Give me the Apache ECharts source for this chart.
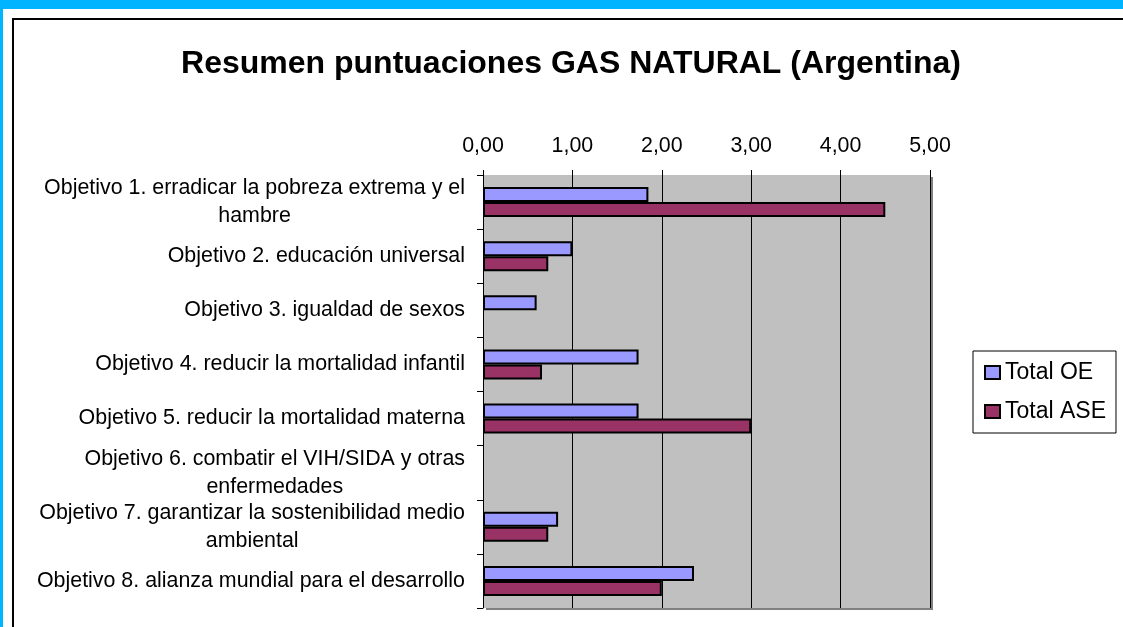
<!DOCTYPE html>
<html>
<head>
<meta charset="utf-8">
<script src="https://cdn.jsdelivr.net/npm/echarts@6/dist/echarts.min.js"></script>
<style>
  html, body { margin: 0; padding: 0; background: #fff; }
  #main { width: 1123px; height: 627px; }
</style>
</head>
<body>
<div id="main"></div>
<script>
// categorías (eje vertical)
var categories = [
  'Objetivo 1. erradicar la pobreza extrema y el\nhambre',
  'Objetivo 2. educación universal',
  'Objetivo 3. igualdad de sexos',
  'Objetivo 4. reducir la mortalidad infantil',
  'Objetivo 5. reducir la mortalidad materna',
  'Objetivo 6. combatir el VIH/SIDA y otras\nenfermedades',
  'Objetivo 7. garantizar la sostenibilidad medio\nambiental',
  'Objetivo 8. alianza mundial para el desarrollo'
];
// series
var totalOE = [1.85, 1.0, 0.6, 1.74, 1.74, 0, 0.84, 2.36];
var totalASE = [4.5, 0.73, 0, 0.66, 3.0, 0, 0.73, 2.0];
// eje de valores
var xMin = 0, xMax = 5, xStep = 1;

var FONT = '"Liberation Sans", Arial, sans-serif';
var LABEL_SIZE = 21.4;

// Excel no dibuja nada para los valores 0
function noZero(arr) {
  return arr.map(function (v) { return v === 0 ? null : v; });
}

// medir la primera línea para centrar la segunda debajo
var ctx = document.createElement('canvas').getContext('2d');
ctx.font = LABEL_SIZE + 'px "Liberation Sans"';
var rich = {};
categories.forEach(function (c, i) {
  var lines = c.split('\n');
  rich['l' + i] = {
    width: ctx.measureText(lines[0]).width,
    align: 'center',
    fontSize: LABEL_SIZE,
    fontFamily: FONT,
    color: '#000',
    lineHeight: 28
  };
});

var chart = echarts.init(document.getElementById('main'));

var option = {
  backgroundColor: '#fff',
  animation: false,
  title: {
    text: 'Resumen puntuaciones GAS NATURAL (Argentina)',
    left: 566,
    textAlign: 'center',
    top: 43,
    textStyle: { fontFamily: FONT, fontSize: 32, fontWeight: 'bold', color: '#000' }
  },
  legend: {
    orient: 'vertical',
    left: 973,
    top: 351,
    data: ['Total OE', 'Total ASE'],
    icon: 'rect',
    itemWidth: 15,
    itemHeight: 13,
    itemGap: 16,
    padding: [10, 10, 10, 11],
    borderColor: '#000',
    borderWidth: 1,
    textStyle: { fontFamily: FONT, fontSize: 23, color: '#000' }
  },
  grid: {
    left: 483,
    right: 193,
    top: 175,
    bottom: 19,
    show: true,
    backgroundColor: '#c0c0c0',
    borderWidth: 0,
    shadowColor: '#808080',
    shadowOffsetX: 3,
    shadowOffsetY: 2,
    shadowBlur: 0
  },
  xAxis: {
    type: 'value',
    position: 'top',
    min: xMin,
    max: xMax,
    interval: xStep,
    axisLine: { show: false },
    axisTick: { show: true, length: 5, lineStyle: { color: '#000' } },
    splitLine: { show: true, lineStyle: { color: '#000', width: 1 } },
    axisLabel: {
      margin: 18,
      color: '#000',
      fontFamily: FONT,
      fontSize: LABEL_SIZE,
      formatter: function (v) { return v.toFixed(2).replace('.', ','); }
    }
  },
  yAxis: {
    type: 'category',
    inverse: true,
    data: categories,
    axisLine: { show: true, lineStyle: { color: '#000', width: 1 } },
    axisTick: { show: true, length: 6, lineStyle: { color: '#000' } },
    axisLabel: {
      margin: 18,
      color: '#000',
      fontFamily: FONT,
      fontSize: LABEL_SIZE,
      lineHeight: 28,
      formatter: function (v, i) {
        var lines = v.split('\n');
        if (lines.length < 2) return v;
        return lines[0] + '\n{l' + i + '|' + lines[1] + '}';
      },
      rich: rich
    }
  },
  series: [
    {
      name: 'Total OE',
      type: 'bar',
      data: noZero(totalOE),
      barWidth: 15,
      barGap: '0%',
      itemStyle: { color: '#9999ff', borderColor: '#000', borderWidth: 2 }
    },
    {
      name: 'Total ASE',
      type: 'bar',
      data: noZero(totalASE),
      barWidth: 15,
      barGap: '0%',
      itemStyle: { color: '#993366', borderColor: '#000', borderWidth: 2 }
    }
  ],
  graphic: [
    // marco celeste
    { type: 'rect', shape: { x: 0, y: 0, width: 1123, height: 9 }, style: { fill: '#00b4ff' }, silent: true },
    { type: 'rect', shape: { x: 0, y: 0, width: 3, height: 627 }, style: { fill: '#00b4ff' }, silent: true },
    // borde del área del gráfico
    { type: 'rect', shape: { x: 13, y: 19, width: 1200, height: 700 }, style: { fill: null, stroke: '#000', lineWidth: 2 }, silent: true }
  ]
};

chart.setOption(option);
</script>
</body>
</html>
